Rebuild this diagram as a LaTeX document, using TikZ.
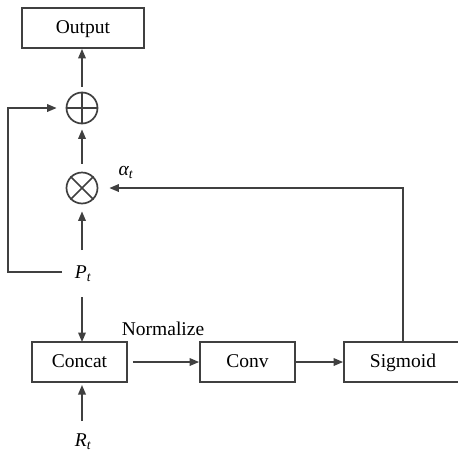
\documentclass[tikz,border=0pt]{standalone}
\usepackage{fontspec}
\setmainfont{Liberation Serif}
\newfontfamily\tms{Liberation Serif}
\usetikzlibrary{arrows.meta}
\begin{document}
\begin{tikzpicture}[x=1pt,y=-1pt,
  ln/.style={draw=black!75, line width=1.7pt},
  arr/.style={ln, -{Triangle[length=9.5pt,width=7.5pt]}},
  boxnode/.style={draw=black!75, line width=1.7pt, rectangle, minimum height=40pt, inner sep=0pt, text height=11.5pt, text depth=0pt, font=\tms\fontsize{19.5}{22}\selectfont},
  opnode/.style={draw=black!75, line width=1.7pt, circle, minimum size=31pt, inner sep=0pt},
  lbl/.style={inner sep=0pt, anchor=base, font=\tms\fontsize{19.5}{22}\selectfont}]
\clip (0,0) rectangle (458,453);
\fill[white] (0,0) rectangle (458,453);
\node[boxnode, minimum width=122pt] (out) at (83,28) {Output};
\node[opnode] (plus) at (82,108) {};
\draw[ln] (plus.north) -- (plus.south) (plus.west) -- (plus.east);
\node[opnode] (times) at (82,188) {};
\draw[ln] (times.north west) -- (times.south east) (times.north east) -- (times.south west);
\node[lbl] (pt) at (83,278) {\itshape P\textsubscript{t}};
\node[lbl] (alpha) at (126,175) {\itshape α\textsubscript{t}};
\node[boxnode, minimum width=95pt] (concat) at (79.5,362) {Concat};
\node[boxnode, minimum width=95pt] (conv) at (247.5,362) {Conv};
\node[boxnode, minimum width=118pt] (sigm) at (403,362) {Sigmoid};
\node[lbl] (rt) at (83,446) {\itshape R\textsubscript{t}};
\node[lbl] (norm) at (163,335) {Normalize};
\coordinate (lb) at (8,272);
\coordinate (lt) at (8,108);
\coordinate (rtop) at (sigm.north |- times);
% arrows
\draw[arr] (plus.north) ++(0,-5) -- (plus.north |- out.south);
\draw[arr] (times.north) ++(0,-8) -- ([yshift=-5pt]plus.south);
\draw[arr] (82,250) -- ([yshift=-7pt]times.south);
\draw[arr] (62,272) -- (lb) -- (lt) -- ([xshift=-9pt]plus.west);
\draw[arr] (82,297) -- (82,342);
\draw[arr] (82,421) -- (82,385);
\draw[arr] ([xshift=5pt]concat.east) -- (conv.west);
\draw[arr] (conv.east) -- (sigm.west);
\draw[arr] (sigm.north) -- (rtop) -- ([xshift=11pt]times.east);
\end{tikzpicture}
\end{document}
